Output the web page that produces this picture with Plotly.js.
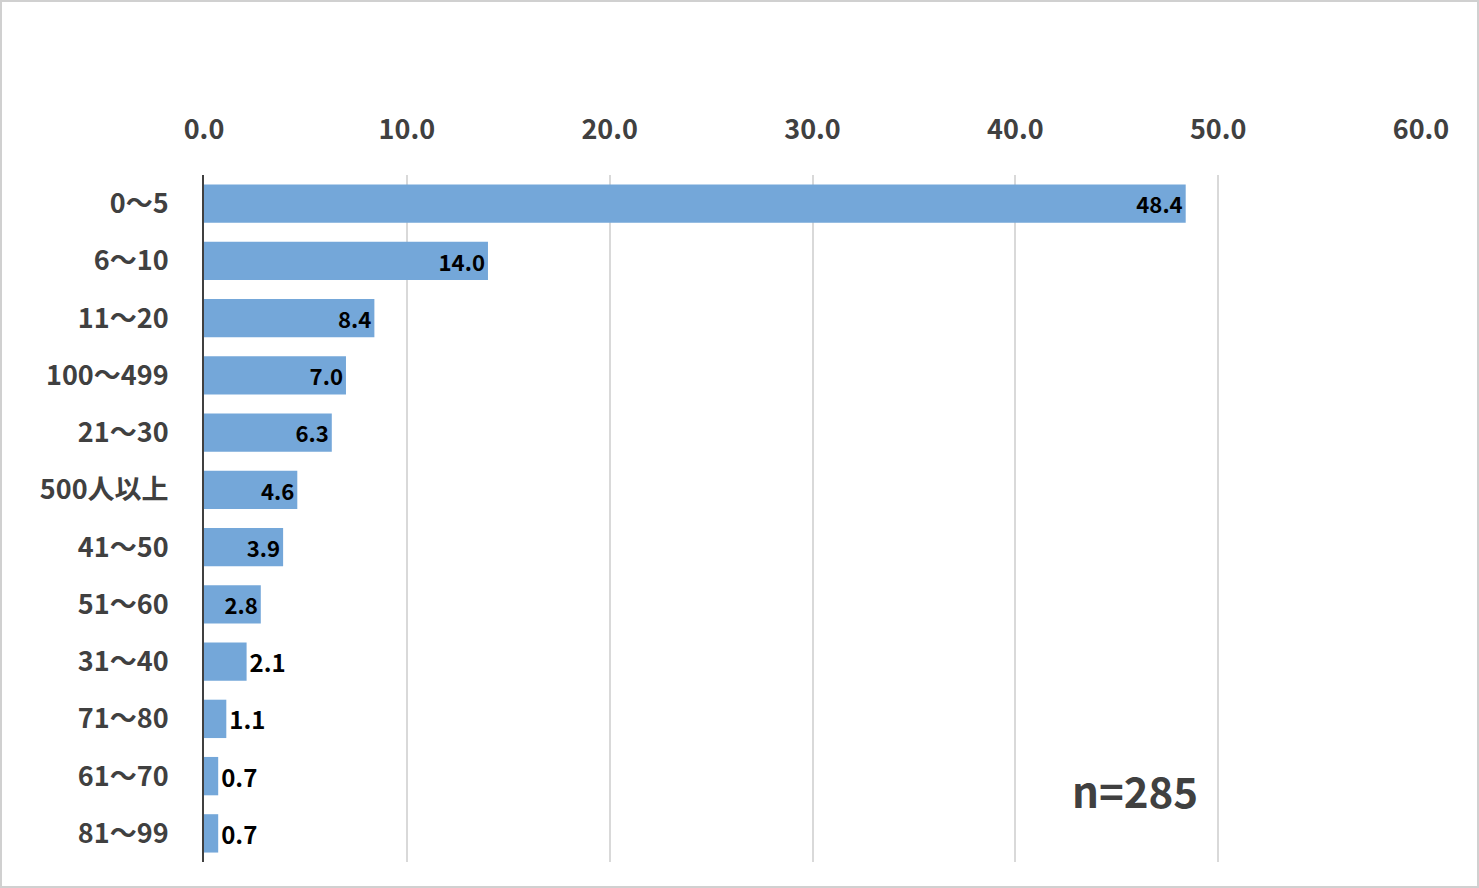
<!DOCTYPE html>
<html><head><meta charset="utf-8">
<script src="https://cdn.plot.ly/plotly-3.0.1.min.js"></script>
<style>body{margin:0}#c{width:1479px;height:888px;box-sizing:border-box;border:2px solid #d0d0d0}</style>
</head><body><div id="c"></div>
<script>
const categories = ["0～5","6～10","11～20","100～499","21～30","500人以上","41～50","51～60","31～40","71～80","61～70","81～99"];
const values = [48.4,14.0,8.4,7.0,6.3,4.6,3.9,2.8,2.1,1.1,0.7,0.7];
const sampleNote = "n=285";
const font = "'Noto Sans CJK JP', 'Noto Sans', sans-serif";
Plotly.newPlot('c', [{
  type:'bar', orientation:'h', y:categories, x:values,
  marker:{color:'#74a7d9'},
  text:values.map(v=>v.toFixed(1)),
  textposition:values.map(v=>v>=2.8?'inside':'outside'),
  insidetextanchor:'end', cliponaxis:false,
  textfont:{family:font,size:24,color:'#000',weight:'bold'},
  hoverinfo:'skip'
}], {
  width:1475, height:884,
  margin:{l:202,r:56,t:173,b:24},
  paper_bgcolor:'#fff', plot_bgcolor:'#fff',
  bargap:0.33, showlegend:false,
  xaxis:{side:'top', range:[0,60], dtick:10, tickformat:'.1f', showgrid:true, gridcolor:'#d9d9d9', gridwidth:1.5, zeroline:false, showline:false, ticks:'',
    ticklabelstandoff:30,
    tickfont:{family:font,size:27,color:'#404040',weight:'bold'}},
  yaxis:{autorange:'reversed', showline:true, linecolor:'#404040', linewidth:2, ticks:'', ticklen:0,
    ticklabelstandoff:28,
    tickfont:{family:font,size:27,color:'#404040',weight:'bold'}},
  annotations:[{text:sampleNote, xref:'paper', yref:'paper', x:0.765, y:0.105, xanchor:'center', yanchor:'middle', showarrow:false,
    font:{family:font,size:42,color:'#404040',weight:'bold'}}]
}, {displayModeBar:false});
</script></body></html>
